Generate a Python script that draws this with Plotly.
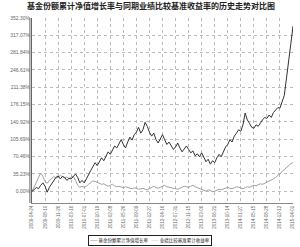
import plotly.graph_objects as go

title = "基金份额累计净值增长率与同期业绩比较基准收益率的历史走势对比图"
series_names = ["基金份额累计净值增长率", "业绩比较基准累计收益率"]

tick_labels = ["2009-04-24", "2009-08-10", "2009-11-26", "2010-03-16", "2010-07-01",
               "2010-10-19", "2011-02-08", "2011-05-26", "2011-09-09", "2011-12-27",
               "2012-04-16", "2012-07-31", "2012-11-15", "2013-03-06", "2013-06-21",
               "2013-10-14", "2014-01-27", "2014-05-15", "2014-08-28", "2014-12-12",
               "2015-04-01"]

y_ticks = [0.00, 35.23, 70.46, 105.69, 140.92, 176.15, 211.38, 246.61, 281.84, 317.07, 352.30]

# 6 observations per label interval
fund = [0, 3, 8, 5, 12, 17,
        10, -2, 8, 15, 22, 28,
        31, 25, 30, 28, 22, 26,
        25, 30, 35, 28, 17, 22,
        17, 25, 35, 42, 50, 58,
        52, 60, 68, 62, 72, 80,
        75, 85, 92, 88, 98, 105,
        95, 88, 100, 110, 104, 115,
        120, 130, 118, 125, 140, 132,
        120, 112, 118, 105, 98, 108,
        115, 105, 95, 100, 92, 85,
        90, 98, 88, 80, 86, 92,
        85, 78, 82, 72, 76, 70,
        78, 68, 60, 65, 55, 62,
        58, 68, 75, 70, 82, 90,
        95, 105, 100, 112, 118, 125,
        122, 135, 159, 145, 138, 130,
        128, 135, 132, 140, 145, 150,
        148, 155, 150, 160, 165, 170,
        169, 180, 195, 230, 260, 300,
        336]
bench = [0, 8, 18, 28, 37, 30,
         20, 16, 22, 25, 30, 27,
         28, 32, 30, 27, 29, 26,
         28, 30, 22, 12, 8, 10,
         8, 10, 14, 18, 21, 20,
         18, 16, 14, 15, 12, 10,
         12, 14, 11, 9, 10, 8,
         7, 9, 8, 6, 5, 7,
         6, 4, 5, 6, 4, 3,
         5, 8, 10, 7, 6, 8,
         10, 12, 9, 8, 7, 6,
         5, 4, 6, 8, 10, 9,
         8, 10, 12, 9, 7, 5,
         4, 2, 0, 3, 1, -1,
         0, 2, 4, 3, 5, 6,
         8, 6, 5, 7, 9, 8,
         6, 5, 7, 9, 8, 10,
         12, 11, 13, 15, 14, 16,
         18, 20, 22, 25, 28, 32,
         36, 40, 45, 50, 54, 56,
         58]

n = len(fund)
xs = list(range(n))
step = (n - 1) / (len(tick_labels) - 1)
tickvals = [i * step for i in range(len(tick_labels))]

fig = go.Figure()
fig.add_trace(go.Scatter(x=xs, y=bench, mode="lines", name=series_names[1],
                         line=dict(color="#a0a0a0", width=1)))
fig.add_trace(go.Scatter(x=xs, y=fund, mode="lines", name=series_names[0],
                         line=dict(color="#333333", width=1)))

legend_text = ("<span style='color:#333333'>——</span> " + series_names[0] +
               "   <span style='color:#a0a0a0'>——</span> " + series_names[1])

fig.update_layout(
    width=300, height=247,
    margin=dict(l=32, r=7, t=18, b=44, autoexpand=False),
    paper_bgcolor="white", plot_bgcolor="white",
    font=dict(family="Liberation Sans", size=5, color="#666"),
    showlegend=False,
    xaxis=dict(range=[0, n - 1], tickvals=tickvals, ticktext=tick_labels, tickangle=-90,
               showgrid=True, gridcolor="#bbbbbb", griddash="dot", gridwidth=1,
               showline=True, linecolor="#888", zeroline=False, ticks="", automargin=False,
               tickfont=dict(size=4.5, color="#666")),
    yaxis=dict(range=[-24, 352.3], tickvals=y_ticks, ticktext=[f"{v:.2f}%" for v in y_ticks],
               showgrid=True, gridcolor="#bbbbbb", griddash="dot", gridwidth=1,
               showline=True, linecolor="#666", zeroline=False, ticks="", automargin=False,
               tickfont=dict(size=5, color="#666")),
    annotations=[
        dict(text="<b>" + title + "</b>", xref="paper", yref="paper", x=0.455, y=1.065,
             xanchor="center", yanchor="middle", showarrow=False,
             font=dict(family="Noto Sans CJK SC", size=8, color="#222")),
        dict(text=legend_text, xref="paper", yref="paper", x=0.452, y=-0.2,
             xanchor="center", yanchor="middle", showarrow=False,
             bordercolor="#222", borderwidth=1, borderpad=1, bgcolor="white",
             font=dict(family="Noto Sans CJK SC", size=4.5, color="#222")),
    ],
    shapes=[dict(type="line", xref="paper", yref="paper", x0=-0.008, x1=-0.008, y0=0, y1=1,
                 line=dict(color="#666", width=1))],
)

fig.write_html("out.html")
